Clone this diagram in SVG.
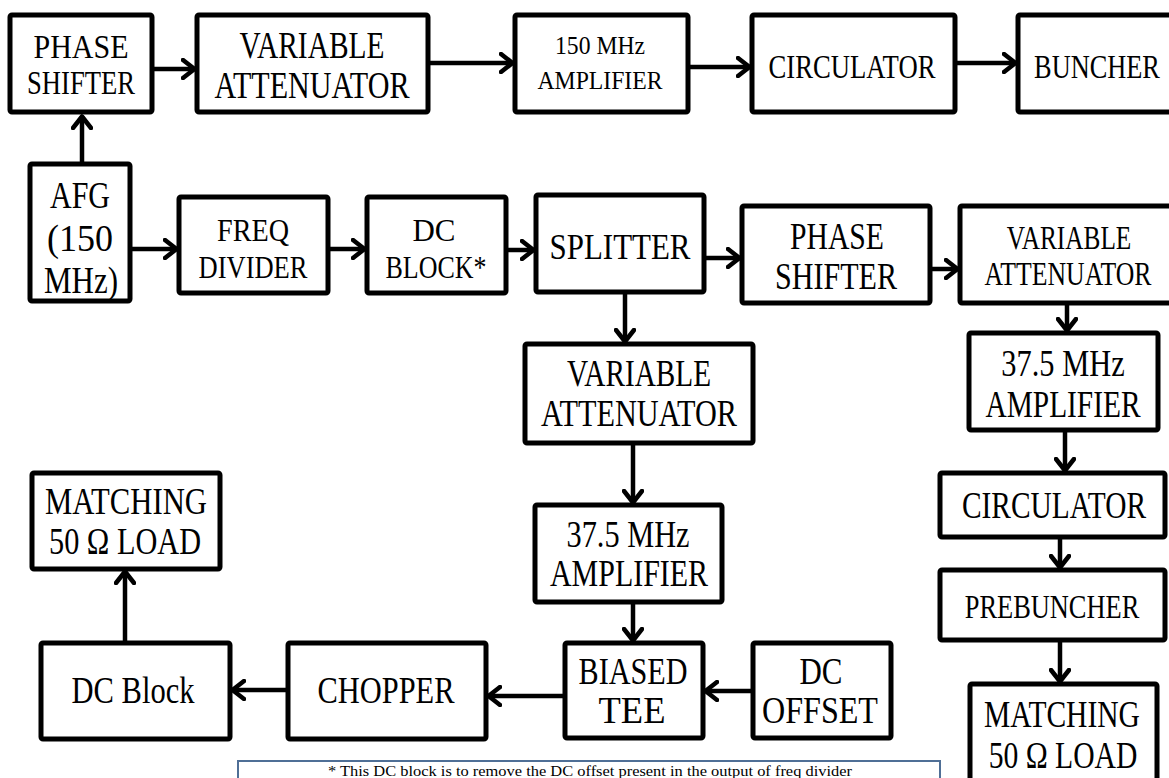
<svg xmlns="http://www.w3.org/2000/svg" width="1169" height="778" viewBox="0 0 1169 778">
<style>
.box{fill:#fff;stroke:#000;stroke-width:5}
.t{font-family:"Liberation Serif","Times New Roman",serif;fill:#000;text-anchor:middle}
.c{fill:none;stroke:#000;stroke-width:4.5;marker-end:url(#ah)}
.note{fill:#fff;stroke:#4f6f96;stroke-width:2}
</style>
<defs>
<marker id="ah" viewBox="0 0 16 22" refX="14" refY="11" markerWidth="16" markerHeight="22" markerUnits="userSpaceOnUse" orient="auto">
<path d="M2,2 L13.5,11 L2,20" fill="none" stroke="#000" stroke-width="4.5" stroke-linecap="round" stroke-linejoin="round"/>
</marker>
</defs>
<rect width="1169" height="778" fill="#fff"/>
<g id="connectors">
<line class="c" x1="82" y1="163" x2="82" y2="116"/>
<line class="c" x1="152" y1="69" x2="195" y2="69"/>
<line class="c" x1="428" y1="63" x2="513" y2="63"/>
<line class="c" x1="688" y1="67" x2="750" y2="67"/>
<line class="c" x1="955" y1="63" x2="1016" y2="63"/>
<line class="c" x1="130" y1="249" x2="177" y2="249"/>
<line class="c" x1="328" y1="249" x2="365" y2="249"/>
<line class="c" x1="506" y1="250" x2="534" y2="250"/>
<line class="c" x1="704" y1="258" x2="740" y2="258"/>
<line class="c" x1="930" y1="269" x2="958" y2="269"/>
<line class="c" x1="625" y1="293" x2="625" y2="342"/>
<line class="c" x1="633" y1="443" x2="633" y2="503"/>
<line class="c" x1="633" y1="602" x2="633" y2="641"/>
<line class="c" x1="753" y1="691" x2="705" y2="691"/>
<line class="c" x1="565" y1="696" x2="488" y2="696"/>
<line class="c" x1="288" y1="690" x2="232" y2="690"/>
<line class="c" x1="125" y1="643" x2="125" y2="571"/>
<line class="c" x1="1067" y1="303" x2="1067" y2="331"/>
<line class="c" x1="1065" y1="430" x2="1065" y2="471"/>
<line class="c" x1="1060" y1="535" x2="1060" y2="568"/>
<line class="c" x1="1060" y1="640" x2="1060" y2="682"/>
</g>
<g id="phase-shifter-1"><rect class="box" x="10" y="15" width="142" height="97" rx="2"/>
<text class="t" font-size="33" x="81" y="58" textLength="95" lengthAdjust="spacingAndGlyphs">PHASE</text>
<text class="t" font-size="33" x="81" y="94" textLength="108" lengthAdjust="spacingAndGlyphs">SHIFTER</text></g>
<g id="variable-attenuator-1"><rect class="box" x="197" y="15" width="231" height="97" rx="2"/>
<text class="t" font-size="38" x="312" y="58" textLength="145" lengthAdjust="spacingAndGlyphs">VARIABLE</text>
<text class="t" font-size="38" x="312" y="98" textLength="195" lengthAdjust="spacingAndGlyphs">ATTENUATOR</text></g>
<g id="amplifier-150"><rect class="box" x="515" y="15" width="173" height="97" rx="2"/>
<text class="t" font-size="26" x="600" y="54" textLength="90" lengthAdjust="spacingAndGlyphs">150 MHz</text>
<text class="t" font-size="26" x="600" y="89" textLength="125" lengthAdjust="spacingAndGlyphs">AMPLIFIER</text></g>
<g id="circulator-1"><rect class="box" x="752" y="15" width="203" height="97" rx="2"/>
<text class="t" font-size="34" x="852" y="78" textLength="167" lengthAdjust="spacingAndGlyphs">CIRCULATOR</text></g>
<g id="buncher"><rect class="box" x="1018" y="15" width="160" height="97" rx="2"/>
<text class="t" font-size="34" transform="translate(1097,78) scale(0.775,1)">BUNCHER</text></g>
<g id="afg"><rect class="box" x="30" y="164" width="100" height="137" rx="2"/>
<text class="t" font-size="38" x="80" y="208" textLength="60" lengthAdjust="spacingAndGlyphs">AFG</text>
<text class="t" font-size="38" x="80" y="251" textLength="66" lengthAdjust="spacingAndGlyphs">(150</text>
<text class="t" font-size="38" x="81" y="293" textLength="74" lengthAdjust="spacingAndGlyphs">MHz)</text></g>
<g id="freq-divider"><rect class="box" x="179" y="197" width="149" height="96" rx="2"/>
<text class="t" font-size="31" x="253" y="241" textLength="72" lengthAdjust="spacingAndGlyphs">FREQ</text>
<text class="t" font-size="31" x="253" y="278" textLength="109" lengthAdjust="spacingAndGlyphs">DIVIDER</text></g>
<g id="dc-block-1"><rect class="box" x="367" y="197" width="139" height="96" rx="2"/>
<text class="t" font-size="31" x="434" y="241" textLength="43" lengthAdjust="spacingAndGlyphs">DC</text>
<text class="t" font-size="31" x="436" y="278" textLength="101" lengthAdjust="spacingAndGlyphs">BLOCK*</text></g>
<g id="splitter"><rect class="box" x="536" y="195" width="168" height="97" rx="2"/>
<text class="t" font-size="35" x="620" y="259" textLength="141" lengthAdjust="spacingAndGlyphs">SPLITTER</text></g>
<g id="phase-shifter-2"><rect class="box" x="742" y="206" width="188" height="97" rx="2"/>
<text class="t" font-size="38" x="837" y="249" textLength="94" lengthAdjust="spacingAndGlyphs">PHASE</text>
<text class="t" font-size="38" x="836" y="289" textLength="122" lengthAdjust="spacingAndGlyphs">SHIFTER</text></g>
<g id="variable-attenuator-2"><rect class="box" x="960" y="206" width="215" height="97" rx="2"/>
<text class="t" font-size="33" transform="translate(1069,249) scale(0.767,1)">VARIABLE</text>
<text class="t" font-size="33" transform="translate(1068,285) scale(0.78,1)">ATTENUATOR</text></g>
<g id="variable-attenuator-3"><rect class="box" x="525" y="344" width="228" height="99" rx="2"/>
<text class="t" font-size="38" x="639" y="386" textLength="144" lengthAdjust="spacingAndGlyphs">VARIABLE</text>
<text class="t" font-size="38" x="639" y="426" textLength="196" lengthAdjust="spacingAndGlyphs">ATTENUATOR</text></g>
<g id="amplifier-37-5-a"><rect class="box" x="535" y="505" width="187" height="97" rx="2"/>
<text class="t" font-size="38" x="628" y="547" textLength="123" lengthAdjust="spacingAndGlyphs">37.5 MHz</text>
<text class="t" font-size="38" x="629" y="586" textLength="158" lengthAdjust="spacingAndGlyphs">AMPLIFIER</text></g>
<g id="amplifier-37-5-b"><rect class="box" x="969" y="333" width="189" height="97" rx="2"/>
<text class="t" font-size="38" transform="translate(1063,376) scale(0.8,1)">37.5 MHz</text>
<text class="t" font-size="38" transform="translate(1063,417) scale(0.773,1)">AMPLIFIER</text></g>
<g id="circulator-2"><rect class="box" x="940" y="473" width="225" height="64" rx="2"/>
<text class="t" font-size="38" transform="translate(1054,518) scale(0.774,1)">CIRCULATOR</text></g>
<g id="prebuncher"><rect class="box" x="940" y="570" width="225" height="70" rx="2"/>
<text class="t" font-size="33" transform="translate(1052,618) scale(0.8,1)">PREBUNCHER</text></g>
<g id="matching-load-2"><rect class="box" x="970" y="684" width="187" height="110" rx="2"/>
<text class="t" font-size="38" transform="translate(1062,727) scale(0.777,1)">MATCHING</text>
<text class="t" font-size="38" transform="translate(1063,768) scale(0.78,1)">50 Ω LOAD</text></g>
<g id="matching-load-1"><rect class="box" x="32" y="473" width="188" height="96" rx="2"/>
<text class="t" font-size="38" x="126" y="514" textLength="162" lengthAdjust="spacingAndGlyphs">MATCHING</text>
<text class="t" font-size="38" x="125" y="554" textLength="152" lengthAdjust="spacingAndGlyphs">50 Ω LOAD</text></g>
<g id="dc-block-2"><rect class="box" x="41" y="643" width="189" height="96" rx="2"/>
<text class="t" font-size="38" x="133" y="703" textLength="123" lengthAdjust="spacingAndGlyphs">DC Block</text></g>
<g id="chopper"><rect class="box" x="288" y="643" width="198" height="96" rx="2"/>
<text class="t" font-size="38" x="386" y="703" textLength="137" lengthAdjust="spacingAndGlyphs">CHOPPER</text></g>
<g id="biased-tee"><rect class="box" x="565" y="643" width="138" height="95" rx="2"/>
<text class="t" font-size="38" x="633" y="684" textLength="109" lengthAdjust="spacingAndGlyphs">BIASED</text>
<text class="t" font-size="38" x="632" y="723" textLength="67" lengthAdjust="spacingAndGlyphs">TEE</text></g>
<g id="dc-offset"><rect class="box" x="753" y="643" width="138" height="95" rx="2"/>
<text class="t" font-size="38" x="821" y="684" textLength="43" lengthAdjust="spacingAndGlyphs">DC</text>
<text class="t" font-size="38" x="820" y="723" textLength="116" lengthAdjust="spacingAndGlyphs">OFFSET</text></g>
<g id="note"><rect class="note" x="238" y="761" width="702" height="30"/>
<text class="t" font-size="15" x="590" y="776" textLength="524" lengthAdjust="spacingAndGlyphs">* This DC block is to remove the DC offset  present in the output of freq divider</text></g>
</svg>
